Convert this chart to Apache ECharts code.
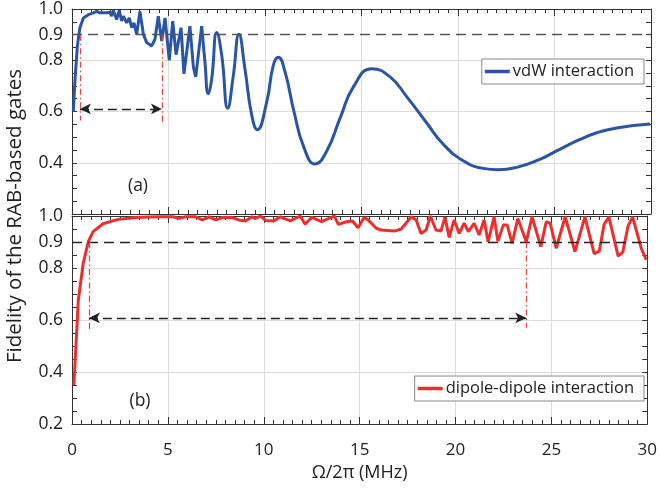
<!DOCTYPE html>
<html><head><meta charset="utf-8">
<script src="https://cdn.jsdelivr.net/npm/echarts@6/dist/echarts.min.js"></script>
<style>html,body{margin:0;padding:0;background:#fff}#c{width:660px;height:489px}</style>
</head><body><div id="c"></div>
<script>
// ---- data ----
const xTicks = [0, 5, 10, 15, 20, 25, 30];
const yLabelsTop = ['1.0', '0.9', '0.8', '0.6', '0.4'];
const yLabelsBottom = ['1.0', '0.9', '0.8', '0.6', '0.4', '0.2'];
const seriesNames = ['vdW interaction', 'dipole-dipole interaction'];
const panelLabels = ['(a)', '(b)'];
const xTitle = 'Ω/2π (MHz)';
const yTitle = 'Fidelity of the RAB-based gates';

// vdW: fast jagged region
const vdwX1 = [0.07,0.16,0.28,0.41,0.59,0.85,1.10,1.28,1.45,1.80,1.97,2.05,2.14,2.31,2.45,2.57,2.66,2.83,2.97,3.09,3.21,3.35,3.52,3.70,3.87,4.13,4.30,4.47,4.65,4.82,5.04,5.22,5.39,5.65,5.80,6.11,6.29,6.41,6.72];
const vdwY1 = [0.60,0.73,0.857,0.927,0.965,0.978,0.985,0.991,0.985,0.985,0.987,0.972,0.995,0.959,0.995,0.953,0.972,0.946,0.965,0.927,0.946,0.901,0.99,0.901,0.869,0.856,0.882,0.972,0.875,0.965,0.800,0.953,0.822,0.927,0.747,0.933,0.773,0.735,0.933];
// vdW: slow smooth region
const vdwX2 = [6.72,6.89,7.06,7.24,7.50,7.76,8.07,8.36,8.65,8.96,9.31,9.60,10.09,10.43,10.69,11.04,11.50,12.02,12.59,13.20,13.89,14.58,15.53,16.48,17.34,18.38,19.24,20.27,21.31,22.09,23.04,24.08,25.11,26.15,27.19,28.22,29.95];
const vdwY2 = [0.933,0.792,0.670,0.728,0.908,0.818,0.613,0.741,0.901,0.767,0.587,0.529,0.638,0.780,0.812,0.754,0.600,0.459,0.395,0.446,0.574,0.696,0.767,0.735,0.658,0.555,0.472,0.408,0.378,0.373,0.382,0.408,0.446,0.485,0.517,0.536,0.551];

// dipole-dipole
const ddX = [0.10,0.33,0.59,0.85,1.10,1.62,2.40,3.30,4.00,4.60,5.25,5.60,5.94,6.46,6.80,7.15,7.50,7.84,8.36,8.70,9.05,9.39,9.57,9.83,10.09,10.52,10.87,11.38,11.90,12.16,12.50,13.02,13.68,13.89,14.32,14.63,14.92,15.23,15.44,15.87,16.13,16.82,17.17,17.69,17.95,18.20,18.47,18.69,18.98,19.24,19.45,19.67,19.93,20.19,20.45,20.67,20.97,21.23,21.49,21.70,22.01,22.21,22.49,22.70,22.95,23.25,23.69,23.99,24.45,24.73,24.94,25.25,25.72,26.23,26.75,27.23,27.50,27.75,28.00,28.48,28.72,29.00,29.24,29.69,29.95];
const ddY = [0.35,0.677,0.82,0.901,0.94,0.970,0.987,0.994,0.996,0.997,0.997,0.991,0.997,0.997,0.985,0.997,0.985,0.994,0.994,0.985,0.981,0.997,0.991,1.0,0.983,0.981,0.997,0.981,1.0,0.968,0.995,0.978,1.0,0.968,0.978,0.981,0.955,0.994,0.985,0.953,0.946,0.942,0.950,0.997,0.985,0.933,0.946,1.0,0.946,0.942,0.995,0.918,0.985,0.933,0.972,0.94,0.972,0.927,0.985,0.901,0.997,0.903,0.965,0.965,0.895,0.99,0.901,0.997,0.882,0.978,0.972,0.876,0.997,0.863,0.997,0.855,0.865,0.968,0.996,0.846,0.86,0.962,0.996,0.875,0.831];

// annotations
const threshold = 0.9;
const vdwBand = [0.41, 4.66];
const vdwDropTo = [0.565, 0.56];
const vdwArrowY = 0.61;
const ddBand = [0.88, 23.69];
const ddDropTo = [0.555, 0.57];
const ddArrowY = 0.608;

// ---- chart ----
const FONT = '"Open Sans", "Liberation Sans", sans-serif';
const AX = '#333';
const zip = (a, b) => a.map((v, i) => [v, b[i]]);

function xAxis(gridIndex, position, showLabels) {
  return {
    type: 'value', gridIndex, position, min: xTicks[0], max: xTicks[xTicks.length - 1],
    interval: xTicks[1] - xTicks[0],
    axisLine: { show: true, onZero: false, lineStyle: { color: AX, width: 1 } },
    axisTick: { show: true, inside: true, length: 7, lineStyle: { color: AX } },
    minorTick: { show: true, splitNumber: 10, length: 4, lineStyle: { color: AX } },
    splitLine: { show: position === 'bottom', lineStyle: { color: '#dedede', width: 1 } },
    axisLabel: { show: showLabels, margin: 18, fontFamily: FONT, fontSize: 17, color: '#222',
      formatter: v => xTicks.includes(v) ? String(v) : '' },
    name: showLabels ? xTitle : '', nameLocation: 'middle', nameGap: 40,
    nameTextStyle: { fontFamily: FONT, fontSize: 18, color: '#222' }
  };
}
function yLeft(gridIndex, labels) {
  return {
    type: 'value', gridIndex, position: 'left', min: 0.2, max: 1.0, interval: 0.1,
    axisLine: { show: true, onZero: false, lineStyle: { color: AX, width: 1 } },
    axisTick: { show: true, inside: true, length: 5, lineStyle: { color: AX } },
    minorTick: { show: true, splitNumber: 2, length: 5, lineStyle: { color: AX } },
    splitLine: { show: false },
    axisLabel: { margin: 9, fontFamily: FONT, fontSize: 17.5, color: '#222',
      formatter: v => { const s = v.toFixed(1); return labels.includes(s) ? s : ''; } }
  };
}
function yRight(gridIndex) {
  return {
    type: 'value', gridIndex, position: 'right', min: 0.2, max: 1.0, interval: 0.2,
    axisLine: { show: true, onZero: false, lineStyle: { color: AX, width: 1 } },
    axisTick: { show: true, inside: true, length: 5, lineStyle: { color: AX } },
    minorTick: { show: true, splitNumber: 4, length: 5, lineStyle: { color: AX } },
    splitLine: { show: true, lineStyle: { color: '#dedede', width: 1 } },
    axisLabel: { show: false }
  };
}

const dropStyle = { type: [6, 3, 1.5, 3], color: '#e8413f', width: 1.2 };
const arrowStyle = { type: [9, 5], color: '#222', width: 1.3 };
function annot(band, drop, arrowY, thColor) {
  return {
    silent: true, symbol: ['none', 'none'], animation: false,
    label: { show: false },
    data: [
      [{ coord: [xTicks[0], threshold], lineStyle: { type: [10, 6], color: thColor, width: 1.3 } },
       { coord: [xTicks[xTicks.length - 1], threshold] }],
      [{ coord: [band[0], threshold], lineStyle: dropStyle }, { coord: [band[0], drop[0]] }],
      [{ coord: [band[1], threshold], lineStyle: dropStyle }, { coord: [band[1], drop[1]] }],
      [{ coord: [band[0], arrowY], symbol: 'arrow', symbolSize: [8, 11], lineStyle: arrowStyle },
       { coord: [band[1], arrowY], symbol: 'arrow', symbolSize: [8, 11] }]
    ]
  };
}

const BLUE = '#2a55a6', RED = '#ee2d2d';
const legendBase = { icon: 'rect', itemWidth: 25, itemHeight: 3.5, itemGap: 0,
  padding: [4, 10, 4, 3], borderColor: '#888', borderWidth: 1, backgroundColor: '#fff', selectedMode: false,
  textStyle: { fontFamily: FONT, fontSize: 16.5, color: '#222', padding: [0, 0, 0, -2] } };
const chart = echarts.init(document.getElementById('c'), null, { renderer: 'canvas' });
chart.setOption({
  animation: false,
  backgroundColor: '#fff',
  grid: [
    { left: 72, right: 9, top: 6, height: 208 },
    { left: 72, right: 9, top: 216, height: 208 }
  ],
  xAxis: [xAxis(0, 'bottom', false), xAxis(0, 'top', false), xAxis(1, 'bottom', true), xAxis(1, 'top', false)],
  yAxis: [yLeft(0, yLabelsTop), yRight(0), yLeft(1, yLabelsBottom), yRight(1)],
  legend: [
    Object.assign({ data: [seriesNames[0]], right: 16, top: 59 }, legendBase),
    Object.assign({ data: [seriesNames[1]], right: 16, top: 376 }, legendBase)
  ],
  graphic: [
    { type: 'text', x: 15, y: 216, rotation: Math.PI / 2,
      style: { text: yTitle, fontFamily: FONT, fontSize: 20.5, fill: '#222', textAlign: 'center', textVerticalAlign: 'middle' } },
    { type: 'text', x: 138, y: 186,
      style: { text: panelLabels[0], fontFamily: FONT, fontSize: 17.5, fill: '#222', textAlign: 'center', textVerticalAlign: 'middle' } },
    { type: 'text', x: 140, y: 401,
      style: { text: panelLabels[1], fontFamily: FONT, fontSize: 17.5, fill: '#222', textAlign: 'center', textVerticalAlign: 'middle' } }
  ],
  series: [
    { name: seriesNames[0], type: 'line', xAxisIndex: 0, yAxisIndex: 0, data: zip(vdwX1, vdwY1),
      showSymbol: false, symbol: 'none', lineStyle: { color: BLUE, width: 3 }, itemStyle: { color: BLUE },
      markLine: annot(vdwBand, vdwDropTo, vdwArrowY, '#555'), z: 3 },
    { name: seriesNames[0], type: 'line', xAxisIndex: 0, yAxisIndex: 0, data: zip(vdwX2, vdwY2),
      smooth: 0.5, showSymbol: false, symbol: 'none', lineStyle: { color: BLUE, width: 3 }, itemStyle: { color: BLUE }, z: 3 },
    { name: seriesNames[1], type: 'line', xAxisIndex: 2, yAxisIndex: 2, data: zip(ddX, ddY),
      showSymbol: false, symbol: 'none', lineStyle: { color: RED, width: 3 }, itemStyle: { color: RED },
      markLine: annot(ddBand, ddDropTo, ddArrowY, '#222'), z: 3 }
  ]
});
</script></body></html>
